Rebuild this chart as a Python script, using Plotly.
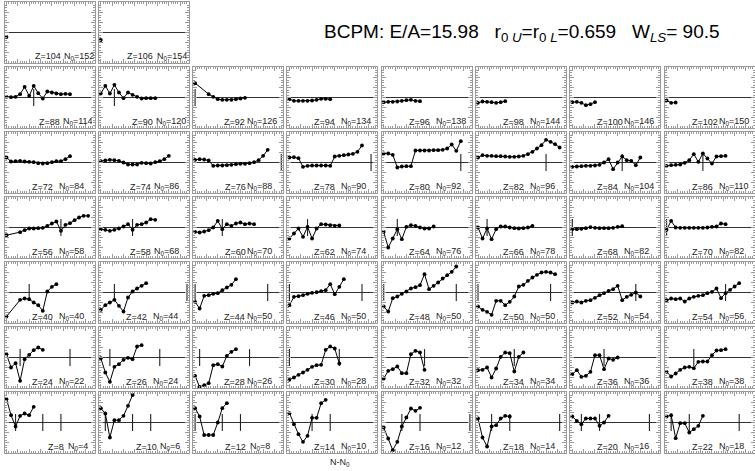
import plotly.graph_objects as go

# ---------------- data ----------------
# grid rows (top to bottom): proton numbers Z and reference neutron numbers N0
ROW_Z = [
    [104, 106, None],
    [88, 90, 92, 94, 96, 98, 100, 102],
    [72, 74, 76, 78, 80, 82, 84, 86],
    [56, 58, 60, 62, 64, 66, 68, 70],
    [40, 42, 44, 46, 48, 50, 52, 54],
    [24, 26, 28, 30, 32, 34, 36, 38],
    [8, 10, 12, 14, 16, 18, 20, 22],
]
ROW_N0 = [
    [152, 154, None],
    [114, 120, 126, 134, 138, 144, 146, 150],
    [84, 86, 88, 90, 92, 96, 104, 110],
    [58, 68, 70, 74, 76, 78, 82, 82],
    [40, 44, 50, 50, 50, 50, 54, 56],
    [22, 24, 26, 28, 32, 34, 36, 38],
    [4, 6, 8, 10, 12, 14, 16, 18],
]
MAGIC_N = [8, 20, 28, 50, 82, 126]
N_STEP = 2  # even-even isotopes: N-N0 = 0, 2, 4, ...

# deviations for each Z, one value per isotope (None = missing isotope)
z104 = [-0.9]
z106 = [-1.5]
z88 = [0.13, 0.07, 0.13, 0.67, 2.13, 0.33, 2.33, 0.87, -0.2, 1.2, 1.0, 0.8, 0.67, 0.73, 0.67]
z90 = [0.8, 2.33, 0.8, 2.53, 1.0, -0.13, 1.0, 0.53, 0.13, -0.2, -0.13, -0.13, -0.13]
z92 = [2.87, None, None, 0.67, 0.13, -0.33, -0.47, -0.47, -0.47, -0.33, -0.2, -0.07]
z94 = [-0.33, -0.67, -0.67, -0.67, -0.67, -0.6, -0.47, -0.27, -0.27, -0.33]
z96 = [-0.93, -0.87, -0.87, -0.8, -0.67, -0.53, -0.47, -0.67, -0.73]
z98 = [-1.07, -0.8, -0.87, -0.93, -1.07, -0.93, -0.73]
z100 = [-0.93, -0.87, -1.07, -1.53, -1.33, -0.93]
z102 = [-0.6, -1.07, -1.0]
z72 = [1.0, 0.2, 0.27, 0.33, 0.2, 0.13, 0.07, -0.13, -0.2, -0.13, 0.07, 0.27, 0.27, 0.67, 1.27]
z74 = [0.27, 0.4, 0.53, 0.47, 0.33, 0.0, -0.4, -0.4, -0.4, -0.07, -0.13, -0.2, 0.07, 0.27, 0.67, 1.33]
z76 = [0.53, 0.67, 0.6, 0.4, -0.67, -0.6, -0.6, -0.53, -0.47, -0.33, -0.27, -0.27, -0.13, 0.07, 0.47, 1.33, 2.53]
z78 = [1.0, 1.07, 0.87, -0.87, -0.67, -0.6, -0.6, -0.6, -0.6, -0.67, 1.2, 1.33, 1.47, 1.6, 1.73, 2.13, 3.4]
z80 = [1.8, 1.8, 1.53, -1.0, -0.8, -0.73, -0.73, 2.4, 2.4, 2.4, 2.4, 2.47, 2.47, 2.53, 2.8, 3.6, 2.33, 4.27]
z82 = [1.0, 1.47, 1.33, 1.33, 1.27, 1.27, 1.2, 1.13, 1.13, 1.2, 1.33, 1.67, 2.13, 2.8, 3.47, 4.53, 4.13, 3.67, 3.0]
z84 = [-0.87, -0.8, -0.73, -0.67, -0.67, -0.6, -0.47, 0.0, 0.67, -1.33, 0.0, 1.2, 0.47, 0.33, -0.53, 1.0]
z86 = [-0.67, -0.53, -0.47, -0.4, -0.07, 0.47, 1.67, 0.13, 1.8, 0.8, -0.2, 1.2, 1.27, 1.33]
z56 = [-1.53, None, None, -0.93, -0.53, -0.2, -0.2, -0.13, -0.07, 0.33, 0.8, 1.2, -0.67, 0.53, 0.87, 1.47, 2.0, 2.33, 2.33]
z58 = [-0.33, -0.47, -0.67, -0.47, -0.2, 0.2, 0.67, -0.47, 0.53, 0.67, 1.0, 1.67, 1.53]
z60 = [-0.87, -1.0, -0.8, -0.53, 0.0, 1.33, -0.33, 0.67, 0.33, 0.8, 1.0, 0.67, 0.8, 0.67]
z62 = [-2.2, -1.2, -0.2, -1.87, 0.13, -2.2, -0.2, 0.67, 0.6, 0.47, 0.33, 0.4]
z64 = [-0.87, -4.0, -2.2, -0.33, -2.33, 0.13, 0.47, 0.33, 0.0, -0.2, -0.2, 0.2]
z66 = [0.0, -2.2, -0.2, -2.33, -0.33, 0.2, 0.2, 0.0, -0.13, -0.2, -0.13, 0.0, 0.33]
z68 = [-0.33, -0.33, -0.27, -0.13, 0.07, -0.07, -0.13, -0.13, -0.13, -0.07, 0.13, 0.27]
z70 = [-0.47, 1.33, 0.0, -0.07, -0.07, -0.07, -0.07, -0.07, -0.07, 0.0, 0.13, 0.2, 0.8, 0.67]
z40 = [-4.8, None, None, -1.47, -1.2, -1.33, -2.0, -2.53, -3.67, 0.2, 1.13, 1.67]
z42 = [-3.47, -2.53, -2.0, -1.47, -2.67, -3.8, -1.0, 0.2, 0.8, 1.33, 1.87]
z44 = [-1.87, -3.2, -0.67, -0.53, -0.27, -0.13, 0.47, 1.0, 1.53, 2.67]
z46 = [-2.53, -0.87, -0.73, -0.53, -0.27, -0.07, 0.07, 0.27, 0.47, 1.67, -0.33, 1.13, 2.67]
z48 = [-2.8, -3.8, -1.13, -0.8, -0.27, 0.2, 0.8, 1.07, 1.47, 3.67, 0.67, 1.33, 2.0, 2.8, 3.47, 4.13, 5.2]
z50 = [-2.8, -3.47, -3.87, -4.47, -1.67, -1.67, -2.53, -1.87, -0.8, 1.2, 1.53, 2.33, 3.0, 3.53, 4.0, 4.13, 4.0, 3.67]
z52 = [-2.0, -1.8, -2.0, -1.67, -1.53, -1.07, -0.53, -0.13, 0.33, 0.67, 1.33, -1.53, -0.87, -0.47, 0.0, -0.8]
z54 = [-1.53, -1.2, -1.33, -1.2, -1.8, -1.2, -0.87, -0.67, -0.53, -0.13, 0.13, 0.8, -1.13, -0.13, 0.53, 1.2, 1.87]
z24 = [0.67, -2.0, -1.13, -4.67, -0.33, 0.53, 1.47, 2.0, 1.53]
z26 = [-0.13, -3.0, -4.87, -1.87, -1.33, -0.47, -0.07, -0.33, 2.2, 2.47]
z28 = [-3.67, -5.9, -5.53, -5.13, -1.53, -1.33, -1.8, 0.33, 1.13, 1.67]
z30 = [-4.47, -4.0, -3.47, -3.0, -2.47, -1.87, -1.53, -1.47, 1.53, 2.2, 1.8, -1.2]
z32 = [-4.2, -2.67, -2.33, -1.8, -3.13, -3.13, 0.67, 1.33, 1.0, -2.47]
z34 = [-2.53, -2.47, -2.0, -4.0, -2.2, 0.13, 1.0, 0.87, -2.8, 0.13, 1.0]
z36 = [-3.33, -2.53, -3.87, -3.67, -2.87, 0.47, 0.47, -2.33, -0.2, -0.47, 0.0]
z38 = [-2.87, -3.8, -3.2, -2.47, -2.0, -1.87, -2.13, -0.87, -0.8, -0.8, 0.47, 1.4, 1.47, 1.67]
z8 = [4.67, 1.47, -0.8, 1.33, 1.8, 1.47, 3.13]
z10 = [2.87, 1.8, -3.0, 0.47, 0.47, 1.33, 3.33, 5.5]
z12 = [2.87, 1.2, -2.5, -2.5, -2.5, 0.0, 2.87, 3.87]
z14 = [1.87, -0.33, -2.33, -3.87, -2.67, 0.93, 0.93, 3.87, 4.53]
z16 = [-1.0, -3.2, -5.53, -3.87, -0.8, 1.0, 2.8, 2.33, 2.93]
z18 = [0.8, -3.0, -4.8, -0.8, -0.53, 0.8, 1.33, 1.2]
z20 = [1.2, 0.33, -0.33, 0.8, 0.8, 0.8, -0.67, 0.0, 1.33]
z22 = [1.2, 1.47, -3.13, -0.13, -0.13, -2.0, -1.33, -0.67, 1.33]

SERIES = {
    104: z104, 106: z106,
    88: z88, 90: z90, 92: z92, 94: z94, 96: z96, 98: z98, 100: z100, 102: z102,
    72: z72, 74: z74, 76: z76, 78: z78, 80: z80, 82: z82, 84: z84, 86: z86,
    56: z56, 58: z58, 60: z60, 62: z62, 64: z64, 66: z66, 68: z68, 70: z70,
    40: z40, 42: z42, 44: z44, 46: z46, 48: z48, 50: z50, 52: z52, 54: z54,
    24: z24, 26: z26, 28: z28, 30: z30, 32: z32, 34: z34, 36: z36, 38: z38,
    8: z8, 10: z10, 12: z12, 14: z14, 16: z16, 18: z18, 20: z20, 22: z22,
}

TITLE = ("BCPM: E/A=15.98&nbsp;&nbsp;&nbsp;r<sub>0 <i>U</i></sub>=r<sub>0 <i>L</i></sub>=0.659"
         "&nbsp;&nbsp;&nbsp;W<sub><i>LS</i></sub>= 90.5")
X_LABEL = "N-N<sub>0</sub>"

# ---------------- layout geometry (pixels) ----------------
W, H = 755, 471
COL_LEFT0, COL_PITCH, PANEL_W = 4.5, 94.3, 90.0
ROW_TOP0, ROW_PITCH, PANEL_H = 2.0, 65.0, 61.0
X_RANGE = [-0.88, 38.8]
Y_RANGE = [-6.1, 6.1]
FRAME = "#9a9a9a"
FONT = "Liberation Sans, Arial, sans-serif"
Z_LABEL_DX, N_LABEL_DX = 25, 52
# label offsets (pixels) where the reference places the panel label further right
LABEL_SHIFT = {
    (0, 0): (3, 5), (0, 1): (1, 4),
    (1, 0): (7, 4), (1, 1): (6, 3.5), (1, 2): (3.5, 0),
    (2, 1): (4.5, 1), (2, 2): (4.5, 0),
    (3, 1): (4.5, 1), (3, 2): (4.5, 0),
    (4, 2): (4, 0), (5, 2): (4, 0),
    (6, 0): (16, 9), (6, 1): (10, 7), (6, 2): (4.5, 3),
}

fig = go.Figure()
layout = dict(
    width=W, height=H, margin=dict(l=0, r=0, t=0, b=0),
    paper_bgcolor="white", plot_bgcolor="white", showlegend=False,
)
annotations = []

k = 0
for r, (zrow, nrow) in enumerate(zip(ROW_Z, ROW_N0)):
    for c, (Z, N0) in enumerate(zip(zrow, nrow)):
        k += 1
        xa = "x" if k == 1 else f"x{k}"
        ya = "y" if k == 1 else f"y{k}"
        L = COL_LEFT0 + c * COL_PITCH
        T = ROW_TOP0 + r * ROW_PITCH
        xdom = [L / W, min(1.0, (L + PANEL_W) / W)]
        ydom = [1 - (T + PANEL_H) / H, 1 - T / H]
        common = dict(showline=True, linecolor=FRAME, linewidth=1, mirror="ticks",
                      ticks="inside", tickcolor=FRAME, showticklabels=False,
                      showgrid=False, fixedrange=True)
        layout["xaxis" if k == 1 else f"xaxis{k}"] = dict(
            domain=xdom, range=X_RANGE, anchor=ya, zeroline=False,
            dtick=5, tick0=0, ticklen=4,
            minor=dict(ticks="inside", dtick=1, ticklen=2, tickcolor=FRAME),
            **common)
        layout["yaxis" if k == 1 else f"yaxis{k}"] = dict(
            domain=ydom, range=Y_RANGE, anchor=xa,
            zeroline=Z is not None, zerolinecolor="#333333", zerolinewidth=1.3,
            dtick=2, tick0=0, ticklen=4,
            minor=dict(ticks="inside", dtick=0.5, ticklen=2, tickcolor=FRAME),
            **common)
        if Z is None:
            continue
        ys = SERIES[Z]
        xs = [i * N_STEP for i in range(len(ys))]
        # magic-number markers
        mx = [m - N0 for m in MAGIC_N if -1 <= m - N0 <= 40]
        if mx:
            fig.add_trace(go.Scatter(
                x=mx, y=[0] * len(mx), xaxis=xa, yaxis=ya, mode="markers",
                cliponaxis=False, hoverinfo="skip",
                marker=dict(symbol="line-ns", size=12, color="#222222",
                            line=dict(width=1.1, color="#222222"))))
        fig.add_trace(go.Scatter(
            x=xs, y=ys, xaxis=xa, yaxis=ya, mode="lines+markers",
            connectgaps=True, cliponaxis=False,
            line=dict(color="black", width=1),
            marker=dict(color="black", size=3.8)))
        dz, dn = LABEL_SHIFT.get((r, c), (0, 0))
        ylab = 1 - (T + PANEL_H - 6.5) / H
        annotations.append(dict(
            xref="paper", yref="paper", x=(L + Z_LABEL_DX + dz) / W, y=ylab,
            xanchor="left", yanchor="middle", showarrow=False,
            text=f"Z={Z}", font=dict(family=FONT, size=9, color="#222222")))
        annotations.append(dict(
            xref="paper", yref="paper", x=(L + N_LABEL_DX + dn) / W, y=ylab,
            xanchor="left", yanchor="middle", showarrow=False,
            text=f"N<sub>0</sub>={N0}", font=dict(family=FONT, size=9, color="#222222")))

annotations.append(dict(
    xref="paper", yref="paper", x=322 / W, y=1 - 33 / H,
    xanchor="left", yanchor="middle", showarrow=False,
    text=TITLE, font=dict(family=FONT, size=19, color="black")))
annotations.append(dict(
    xref="paper", yref="paper", x=340 / W, y=1 - 462 / H,
    xanchor="center", yanchor="middle", showarrow=False,
    text=X_LABEL, font=dict(family=FONT, size=9, color="#222222")))
layout["annotations"] = annotations

fig.update_layout(**layout)
fig.write_html("out.html", config={"displayModeBar": False},
               post_script="document.body.style.margin='0';document.body.style.padding='0';")
